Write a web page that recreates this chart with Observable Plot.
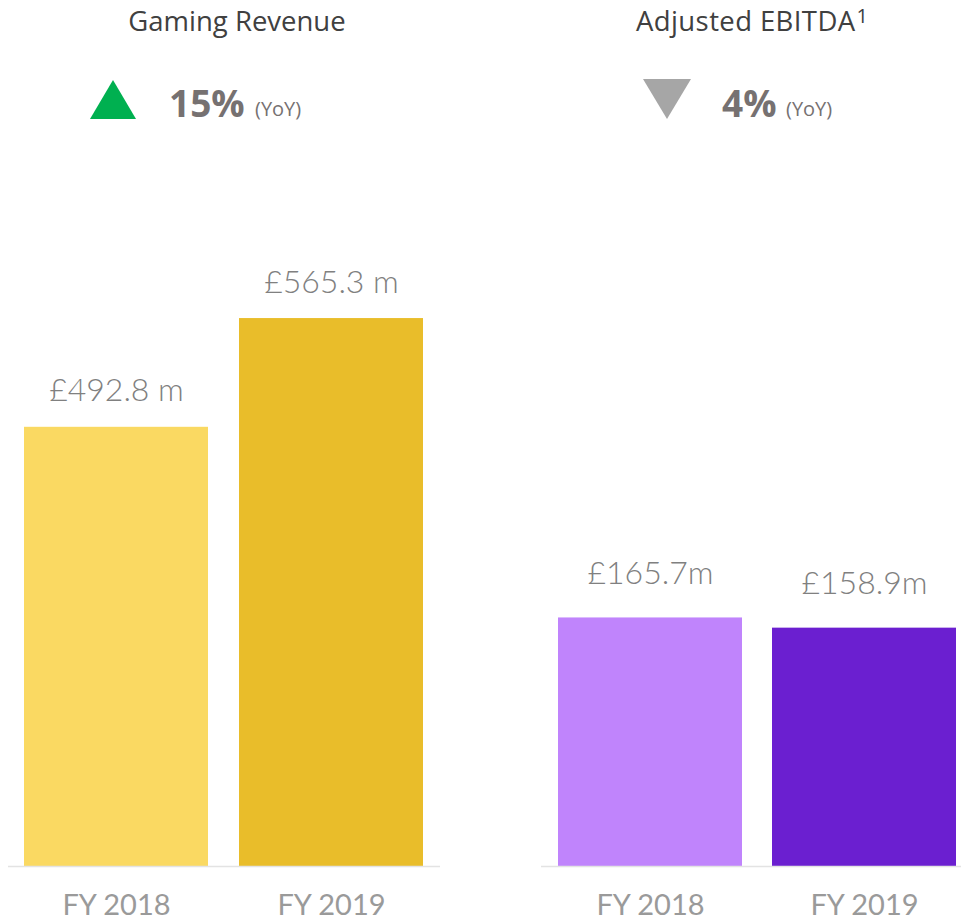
<!DOCTYPE html>
<html>
<head>
<meta charset="utf-8">
<script src="https://cdn.jsdelivr.net/npm/d3@7"></script>
<script src="https://cdn.jsdelivr.net/npm/@observablehq/plot@0.6"></script>
<style>
  html, body { margin: 0; padding: 0; background: #fff; }
  #wrap { position: relative; width: 961px; height: 922px; overflow: hidden; background: #fff; }
  .panel { position: absolute; top: 140px; }
  #hdr { position: absolute; left: 0; top: 0; }
</style>
</head>
<body>
<div id="wrap">
  <svg id="hdr" width="961" height="140" xmlns="http://www.w3.org/2000/svg">
    <text x="237" y="31" text-anchor="middle" font-family="Open Sans" font-size="27.5" fill="#404040">Gaming Revenue</text>
    <polygon points="90,119 113,80 136,119" fill="#00b050"></polygon>
    <text x="169" y="117" font-family="Open Sans" font-weight="bold" font-size="37" fill="#767171">15%</text>
    <text x="255" y="116" font-family="Open Sans" font-size="20" fill="#767171">(YoY)</text>
    <text x="636" y="31" font-family="Open Sans" font-size="27.5" letter-spacing="0.4" fill="#404040">Adjusted EBITDA<tspan font-size="20" dx="1" dy="-8">1</tspan></text>
    <polygon points="643,79 691,79 667,119" fill="#a6a6a6"></polygon>
    <text x="722" y="117" font-family="Open Sans" font-weight="bold" font-size="37" fill="#767171">4%</text>
    <text x="786" y="116" font-family="Open Sans" font-size="20" fill="#767171">(YoY)</text>
  </svg>
  <div id="left" class="panel" style="left:0px"></div>
  <div id="right" class="panel" style="left:480px"></div>
</div>
<script>
// ---- data ----
const years = ["FY 2018", "FY 2019"];
const revenueValues = [492.8, 565.3];
const revenueLabels = ["£492.8 m", "£565.3 m"];
const revenueColors = ["#fad962", "#e9bd2a"];
const ebitdaValues = [165.7, 158.9];
const ebitdaLabels = ["£165.7m", "£158.9m"];
const ebitdaColors = ["#c084fc", "#6b1fd0"];

const revenueData = years.map((y, i) => ({year: y, value: revenueValues[i], label: revenueLabels[i]}));
const ebitdaData = years.map((y, i) => ({year: y, value: ebitdaValues[i], label: ebitdaLabels[i]}));

function panel({data, colors, yDomain, width, marginLeft, marginRight, xRange, paddingInner, labelDy}) {
  const base = yDomain[0];
  return Plot.plot({
    width,
    height: 782,
    marginLeft,
    marginRight,
    marginTop: 126,
    marginBottom: 56,
    style: {fontFamily: "Lato, 'Open Sans', sans-serif", fontSize: "29px", color: "#9a9a9a", background: "transparent"},
    x: {domain: years, range: xRange, paddingInner, paddingOuter: 0, align: 0.5, label: null, tickSize: 0, tickPadding: 28},
    y: {domain: yDomain, axis: null},
    color: {domain: years, range: colors},
    marks: [
      Plot.barY(data, {x: "year", y1: base, y2: "value", fill: "year"}),
      Plot.ruleY([base], {stroke: "#e3e3e3", strokeWidth: 1.5}),
      Plot.text(data, {x: "year", y: "value", text: "label", lineAnchor: "bottom", dy: labelDy, fill: "#808080", fontSize: 32, fontWeight: 300})
    ]
  });
}

document.getElementById("left").appendChild(panel({
  data: revenueData, colors: revenueColors, yDomain: [200, 600],
  width: 480, marginLeft: 8, marginRight: 40, xRange: [23, 424], paddingInner: 0.1435, labelDy: -26
}));
document.getElementById("right").appendChild(panel({
  data: ebitdaData, colors: ebitdaColors, yDomain: [0, 400],
  width: 481, marginLeft: 61, marginRight: 0, xRange: [77, 477], paddingInner: 0.1395, labelDy: -34
}));
</script>
</body>
</html>
